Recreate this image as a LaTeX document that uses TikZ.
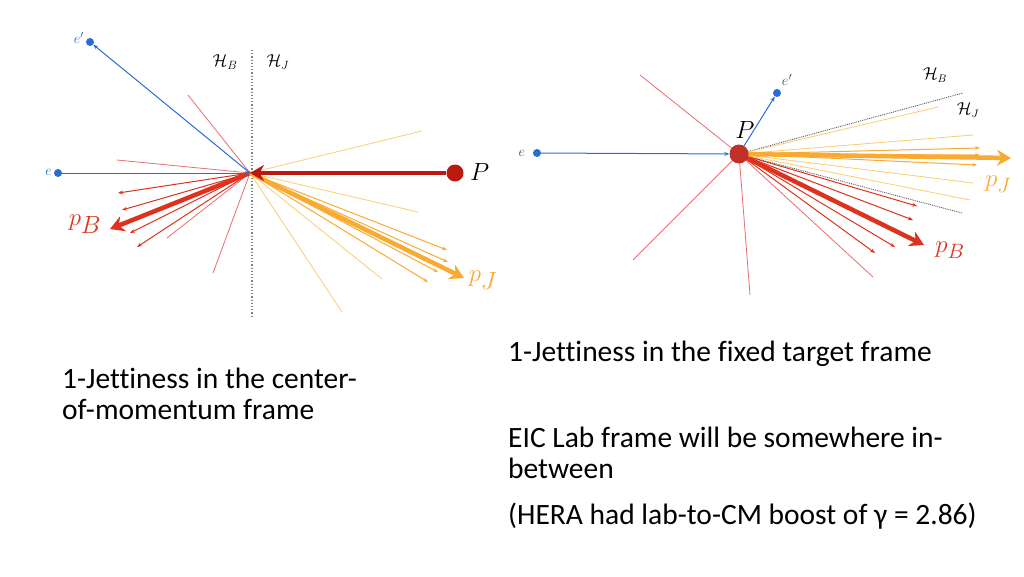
\documentclass[tikz,border=0pt]{standalone}
\usepackage{fontspec}
\setmainfont[RawFeature={-liga;-dlig}]{Carlito}
\usetikzlibrary{arrows.meta}
\definecolor{eblue}{RGB}{40,110,210}
\definecolor{bred}{RGB}{220,50,30}
\definecolor{pred}{RGB}{230,110,110}
\definecolor{dred}{RGB}{185,25,15}
\definecolor{jor}{RGB}{248,170,50}
\definecolor{lor}{RGB}{250,205,110}
\newcommand{\fs}[1]{\fontsize{#1}{#1}\selectfont}
\begin{document}
\begin{tikzpicture}[x=1pt,y=-1pt,
  thinr/.style={pred,line width=0.8pt},
  arr/.style={bred,line width=1pt,-{Stealth[length=5pt]}},
  thickr/.style={bred,line width=4.5pt,-{Stealth[length=14pt,width=16pt]}},
  thino/.style={lor,line width=0.8pt},
  arro/.style={jor,line width=1pt,-{Stealth[length=5pt]}},
  thicko/.style={jor,line width=4.5pt,-{Stealth[length=14pt,width=16pt]}},
  eline/.style={eblue,line width=1pt,-{Stealth[length=5pt]}},
  dot/.style={circle,fill=eblue,inner sep=0pt,minimum size=8pt},
  txt/.style={font=\fontsize{29.5}{31}\selectfont,align=left,anchor=north west,inner sep=0pt},
  lab/.style={inner sep=0pt}]
\useasboundingbox (0,0) rectangle (1024,576);
% ---------- left diagram ----------
\coordinate (O) at (250,173);
\node[dot] (ep) at (90,42) {};
\node[dot] (e) at (58,173) {};
\node[circle,fill=dred,inner sep=0pt,minimum size=17pt] (P) at (455,173) {};
\node[lab,eblue,font=\fs{15},anchor=east] at (84,38) {$e'$};
\node[lab,eblue,font=\fs{15},anchor=east] at (52,172) {$e$};
\node[lab,anchor=west,font=\fs{26}] at (470,172) {$P$};
\draw[gray,dotted,line width=1.2pt] (252,50) -- (252,318);
\node[lab,font=\fs{17}] at (225,62) {$\mathcal{H}_B$};
\node[lab,font=\fs{17}] at (278,62) {$\mathcal{H}_J$};
\foreach \p in {(188,95),(117,160),(213,273),(167,238)} \draw[thinr] (O) -- \p;
\foreach \p in {(118,193),(122,210),(130,233),(137,247)} \draw[arr] (O) -- \p;
\foreach \p in {(422,131),(418,212),(382,279),(342,312)} \draw[thino] (O) -- \p;
\foreach \p in {(447,250),(448,262),(438,272),(428,282)} \draw[arro] (O) -- \p;
\draw[thickr] (O) -- (110,229);
\draw[thicko] (O) -- (464,278);
\draw[eline] (e) -- (O);
\draw[eline] (O) -- (ep);
\draw[dred,line width=4pt,-{Stealth[length=14pt,width=16pt]}] (P) -- (O);
\node[lab,bred,font=\fs{34}] at (85,224) {$p_B$};
\node[lab,jor,font=\fs{34}] at (483,280) {$p_J$};
% ---------- right diagram ----------
\coordinate (Q) at (739,154);
\draw[gray!70!black,densely dotted,line width=0.9pt] (Q) -- (963,93);
\draw[gray!70!black,densely dotted,line width=0.9pt] (Q) -- (962,213);
\foreach \p in {(640,75),(633,260),(750,295),(873,277)} \draw[thinr] (Q) -- \p;
\foreach \p in {(917,206),(913,220),(895,247),(875,253)} \draw[arr] (Q) -- \p;
\foreach \p in {(938,107),(973,135),(973,183),(970,200)} \draw[thino] (Q) -- \p;
\foreach \p in {(980,148),(980,155),(977,165)} \draw[arro] (Q) -- \p;
\draw[thickr] (Q) -- (924,245);
\draw[thicko] (Q) -- (1011,158);
\node[dot] (e2) at (537,153) {};
\node[dot] (ep2) at (777,93) {};
\node[circle,fill=dred!90,inner sep=0pt,minimum size=19pt] (P2) at (739,154) {};
\draw[eline] (e2) -- (P2);
\draw[eline] (P2) -- (ep2);
\node[lab,gray!60!black,font=\fs{15}] at (522,153) {$e$};
\node[lab,gray!60!black,font=\fs{15}] at (787,80) {$e'$};
\node[lab,font=\fs{24}] at (745,130) {$P$};
\node[lab,font=\fs{16}] at (935,75) {$\mathcal{H}_B$};
\node[lab,font=\fs{16}] at (968,110) {$\mathcal{H}_J$};
\node[lab,bred,font=\fs{32}] at (950,250) {$p_B$};
\node[lab,jor,font=\fs{32}] at (998,184) {$p_J$};
% ---------- texts ----------
\node[txt] (t1) at (62,368) {1-Jettiness in the center-\\of-momentum frame};
\node[txt] (t2) at (508,341) {1-Jettiness in the fixed target frame};
\node[txt] (t3) at (508,427) {EIC Lab frame will be somewhere in-\\between};
\node[txt] (t4) at (508,503) {(HERA had lab-to-CM boost of γ = 2.86)};
\end{tikzpicture}
\end{document}
